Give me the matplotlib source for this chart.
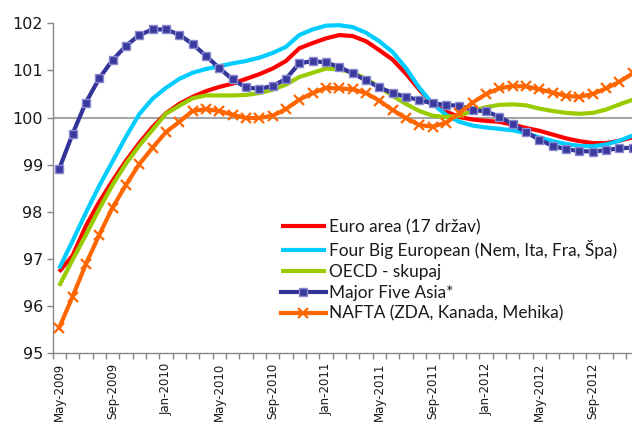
import matplotlib
matplotlib.use("Agg")
import matplotlib.pyplot as plt
import pandas as pd

# Monthly composite leading indicators, May 2009 - Dec 2012
months = pd.date_range("2009-05-01", periods=44, freq="MS")

euro_area = [96.73, 97.07, 97.70, 98.21, 98.66, 99.08, 99.46, 99.80, 100.09, 100.29,
             100.44, 100.56, 100.65, 100.72, 100.82, 100.92, 101.04, 101.20, 101.47, 101.58,
             101.68, 101.75, 101.73, 101.62, 101.43, 101.23, 100.93, 100.59, 100.29, 100.13,
             100.01, 99.96, 99.93, 99.91, 99.85, 99.78, 99.72, 99.64, 99.56, 99.50,
             99.46, 99.46, 99.51, 99.58]

four_big = [96.80, 97.38, 97.98, 98.55, 99.07, 99.59, 100.07, 100.40, 100.63, 100.82,
            100.95, 101.03, 101.09, 101.15, 101.20, 101.27, 101.37, 101.50, 101.75, 101.87,
            101.95, 101.96, 101.92, 101.80, 101.62, 101.39, 101.05, 100.63, 100.29, 100.06,
            99.91, 99.83, 99.79, 99.76, 99.73, 99.67, 99.58, 99.50, 99.44, 99.40,
            99.39, 99.43, 99.51, 99.62]

oecd_total = [96.43, 96.98, 97.51, 98.06, 98.57, 99.02, 99.40, 99.74, 100.08, 100.25,
              100.41, 100.47, 100.47, 100.47, 100.48, 100.52, 100.59, 100.70, 100.86, 100.95,
              101.04, 101.02, 100.96, 100.82, 100.65, 100.46, 100.29, 100.14, 100.04, 100.01,
              100.04, 100.14, 100.22, 100.27, 100.28, 100.26, 100.19, 100.14, 100.10, 100.08,
              100.10, 100.17, 100.28, 100.38]

major_five_asia = [98.91, 99.65, 100.32, 100.83, 101.22, 101.52, 101.75, 101.87, 101.87, 101.76,
                   101.56, 101.31, 101.05, 100.81, 100.64, 100.61, 100.67, 100.82, 101.15, 101.20,
                   101.17, 101.07, 100.94, 100.79, 100.64, 100.52, 100.44, 100.37, 100.30, 100.27,
                   100.25, 100.16, 100.13, 100.02, 99.86, 99.69, 99.53, 99.40, 99.33, 99.29,
                   99.28, 99.31, 99.35, 99.36]

nafta = [95.54, 96.20, 96.89, 97.51, 98.09, 98.57, 99.01, 99.36, 99.69, 99.91,
         100.14, 100.18, 100.14, 100.06, 99.99, 99.99, 100.04, 100.18, 100.38, 100.52,
         100.63, 100.62, 100.60, 100.52, 100.36, 100.16, 99.99, 99.84, 99.81, 99.89,
         100.09, 100.32, 100.50, 100.62, 100.67, 100.66, 100.60, 100.53, 100.46, 100.44,
         100.50, 100.62, 100.76, 100.94]

series_names = ["Euro area (17 držav)",
                "Four Big European (Nem, Ita, Fra, Špa)",
                "OECD - skupaj",
                "Major Five Asia*",
                "NAFTA (ZDA, Kanada, Mehika)"]

y_ticks = [95, 96, 97, 98, 99, 100, 101, 102]
reference_level = 100

W, H = 632, 423
fig = plt.figure(figsize=(W / 100, H / 100), dpi=100)
# plot area runs slightly past the right edge of the canvas
ax = fig.add_axes([52.5 / W, 69.7 / H, (639.4 - 52.5) / W, 330.0 / H])

x = list(range(len(months)))
lw = 3.0

ax.axhline(reference_level, color="#a6a6a6", lw=1.5, zorder=1)

ax.plot(x, euro_area, color="#ff0000", lw=lw, label=series_names[0], zorder=2,
        solid_capstyle="butt")
ax.plot(x, four_big, color="#00ccff", lw=lw, label=series_names[1], zorder=3,
        solid_capstyle="butt")
ax.plot(x, oecd_total, color="#99cc00", lw=lw, label=series_names[2], zorder=4,
        solid_capstyle="butt")
ax.plot(x, major_five_asia, color="#333399", lw=lw, label=series_names[3], zorder=5,
        marker="s", markersize=5.5, markerfacecolor="#3a3a9e",
        markeredgecolor="#8a8ad0", markeredgewidth=1.0)
ax.plot(x, nafta, color="#ff6600", lw=lw, label=series_names[4], zorder=6,
        marker="x", markersize=7.5, markeredgewidth=1.6)

ax.set_xlim(-0.5, len(months) - 0.5)
ax.set_ylim(95, 102)

# axes styling
for side in ("top", "right"):
    ax.spines[side].set_visible(False)
for side in ("left", "bottom"):
    ax.spines[side].set_color("#868686")
    ax.spines[side].set_linewidth(1.0)

ax.set_yticks(y_ticks)
ax.set_yticklabels([str(v) for v in y_ticks], fontsize=11.5, family="DejaVu Sans")
ax.tick_params(axis="y", direction="out", length=4, width=1, color="#868686",
               pad=3, labelcolor="#1a1a1a")

# month boundaries carry the tick marks, every fourth month carries a label
ax.set_xticks([i - 0.5 for i in range(len(months) + 1)])
ax.set_xticklabels([])
ax.tick_params(axis="x", which="major", direction="out", length=4, width=1,
               color="#868686")
label_pos = x[::4]
label_txt = [months[i].strftime("%b-%Y") for i in label_pos]
ax.set_xticks(label_pos, minor=True)
ax.set_xticklabels(label_txt, minor=True, rotation=90, fontsize=8.5,
                   family="DejaVu Sans", color="#1a1a1a")
ax.tick_params(axis="x", which="minor", length=0, pad=7)

leg = ax.legend(loc="upper left", bbox_to_anchor=(281 / W, (H - 219) / H),
                bbox_transform=fig.transFigure, frameon=False,
                prop={"family": "Lato", "size": 12.4},
                handlelength=2.6, handletextpad=0.2, labelspacing=0.28,
                borderaxespad=0, borderpad=0)
for t in leg.get_texts():
    t.set_color("#1a1a1a")

fig.savefig("out.png", dpi=100)
